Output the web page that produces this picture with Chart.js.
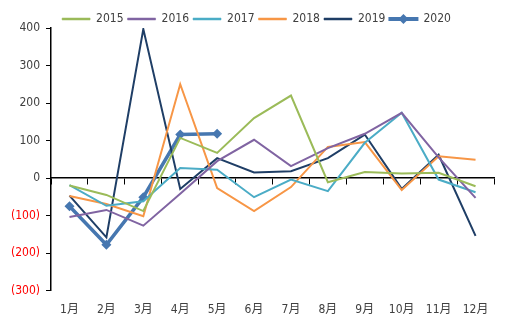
<!DOCTYPE html>
<html>
<head>
<meta charset="utf-8">
<script src="https://cdn.jsdelivr.net/npm/chart.js@4/dist/chart.umd.min.js"></script>
<style>
  html, body { margin: 0; padding: 0; background: #fff; }
  #wrap { width: 511px; height: 327px; }
</style>
</head>
<body>
<div id="wrap"><canvas id="chart"></canvas></div>
<script>
// month labels and yearly series
const months = ['1月', '2月', '3月', '4月', '5月', '6月', '7月', '8月', '9月', '10月', '11月', '12月'];
const yTicks = [-300, -200, -100, 0, 100, 200, 300, 400];

const y2015 = [-20, -45, -88, 107, 67, 160, 220, -11, 16, 12, 14, -22];
const y2016 = [-104, -85, -127, -42, 45, 102, 32, 80, 118, 174, 55, -53];
const y2017 = [-19, -74, -62, 27, 22, -51, -4, -35, 94, 174, -4, -38];
const y2018 = [-48, -69, -102, 250, -27, -88, -24, 83, 96, -32, 58, 49];
const y2019 = [-47, -158, 397, -29, 53, 15, 18, 53, 116, -29, 62, -154];
const y2020 = [-75, -178, -51, 116, 118];

const FONT = "'Liberation Sans Narrow', 'DejaVu Sans Condensed', 'Noto Sans CJK SC', sans-serif";

function line(label, data, color, width) {
  return {
    label: label,
    data: data,
    borderColor: color,
    backgroundColor: color,
    borderWidth: width || 2,
    pointRadius: 0,
    tension: 0,
    fill: false,
  };
}

const datasets = [
  line('2015', y2015, '#9bbb59'),
  line('2016', y2016, '#8064a2'),
  line('2017', y2017, '#4bacc6'),
  line('2018', y2018, '#f79646'),
  line('2019', y2019, '#1f3e66'),
  Object.assign(line('2020', y2020, '#4677b0', 3.5), {
    pointStyle: 'rectRot',
    pointRadius: 5,
    pointBorderWidth: 0,
  }),
];

// legend tweaks: tighter box, nudged position, diamond on the 2020 swatch
const legendTweak = {
  id: 'legendTweak',
  beforeInit(chart) {
    const lg = chart.legend;
    if (!lg || lg._fitPatched) return;
    const fit = lg.fit.bind(lg);
    lg.fit = function () {
      fit();
      this.height -= 2;
    };
    lg._fitPatched = true;
  },
  afterLayout(chart) {
    const lg = chart.legend;
    if (!lg) return;
    lg.left += 7;
    lg.right += 7;
    lg.top += 5;
    lg.bottom += 5;
  },
  afterDraw(chart) {
    const lg = chart.legend;
    if (!lg || !lg.legendHitBoxes) return;
    const ctx = chart.ctx;
    lg.legendItems.forEach((item, i) => {
      const ds = chart.data.datasets[item.datasetIndex];
      if (ds.pointStyle !== 'rectRot') return;
      const box = lg.legendHitBoxes[i];
      const cx = box.left + lg.options.labels.boxWidth / 2;
      const cy = box.top + box.height / 2;
      ctx.save();
      ctx.fillStyle = ds.borderColor;
      ctx.beginPath();
      ctx.moveTo(cx, cy - 5);
      ctx.lineTo(cx + 5, cy);
      ctx.lineTo(cx, cy + 5);
      ctx.lineTo(cx - 5, cy);
      ctx.closePath();
      ctx.fill();
      ctx.restore();
    });
  },
};

new Chart(document.getElementById('chart'), {
  type: 'line',
  data: { labels: months, datasets: datasets },
  plugins: [legendTweak],
  options: {
    responsive: true,
    maintainAspectRatio: false,
    animation: false,
    layout: { padding: { left: 5, right: 17, top: 4, bottom: 6 } },
    plugins: {
      tooltip: { enabled: false },
      legend: {
        position: 'top',
        labels: {
          boxWidth: 28,
          boxHeight: 2,
          padding: 4,
          color: '#404040',
          font: { family: FONT, size: 12 },
          generateLabels(chart) {
            return chart.data.datasets.map((ds, i) => ({
              text: ds.label,
              fillStyle: ds.borderColor,
              strokeStyle: ds.borderColor,
              lineWidth: ds.borderWidth > 3 ? 2 : 0.5,
              hidden: false,
              datasetIndex: i,
              fontColor: '#404040',
            }));
          },
        },
      },
    },
    scales: {
      // axis line and tick marks sitting on zero
      x: {
        type: 'category',
        offset: true,
        position: { y: 0 },
        ticks: { display: false },
        grid: { display: true, drawOnChartArea: false, drawTicks: true, tickLength: 6, color: '#000', offset: true },
        border: { display: true, color: '#000', width: 1.5 },
      },
      // month labels along the bottom
      x2: {
        type: 'category',
        labels: months,
        offset: true,
        position: 'bottom',
        grid: { display: false },
        border: { display: false },
        ticks: { color: '#404040', font: { family: FONT, size: 12 }, padding: 4 },
      },
      y: {
        min: -300,
        max: 400,
        afterBuildTicks(scale) {
          scale.ticks = yTicks.map((v) => ({ value: v }));
        },
        ticks: {
          color: (c) => (c.tick && c.tick.value < 0 ? '#ff0000' : '#404040'),
          font: { family: FONT, size: 12 },
          padding: 6,
          callback: (v) => (v < 0 ? '(' + Math.abs(v) + ')' : String(v)),
        },
        grid: { display: true, drawOnChartArea: false, tickLength: 5, color: '#000' },
        border: { display: true, color: '#000', width: 1.5 },
      },
    },
  },
});
</script>
</body>
</html>
